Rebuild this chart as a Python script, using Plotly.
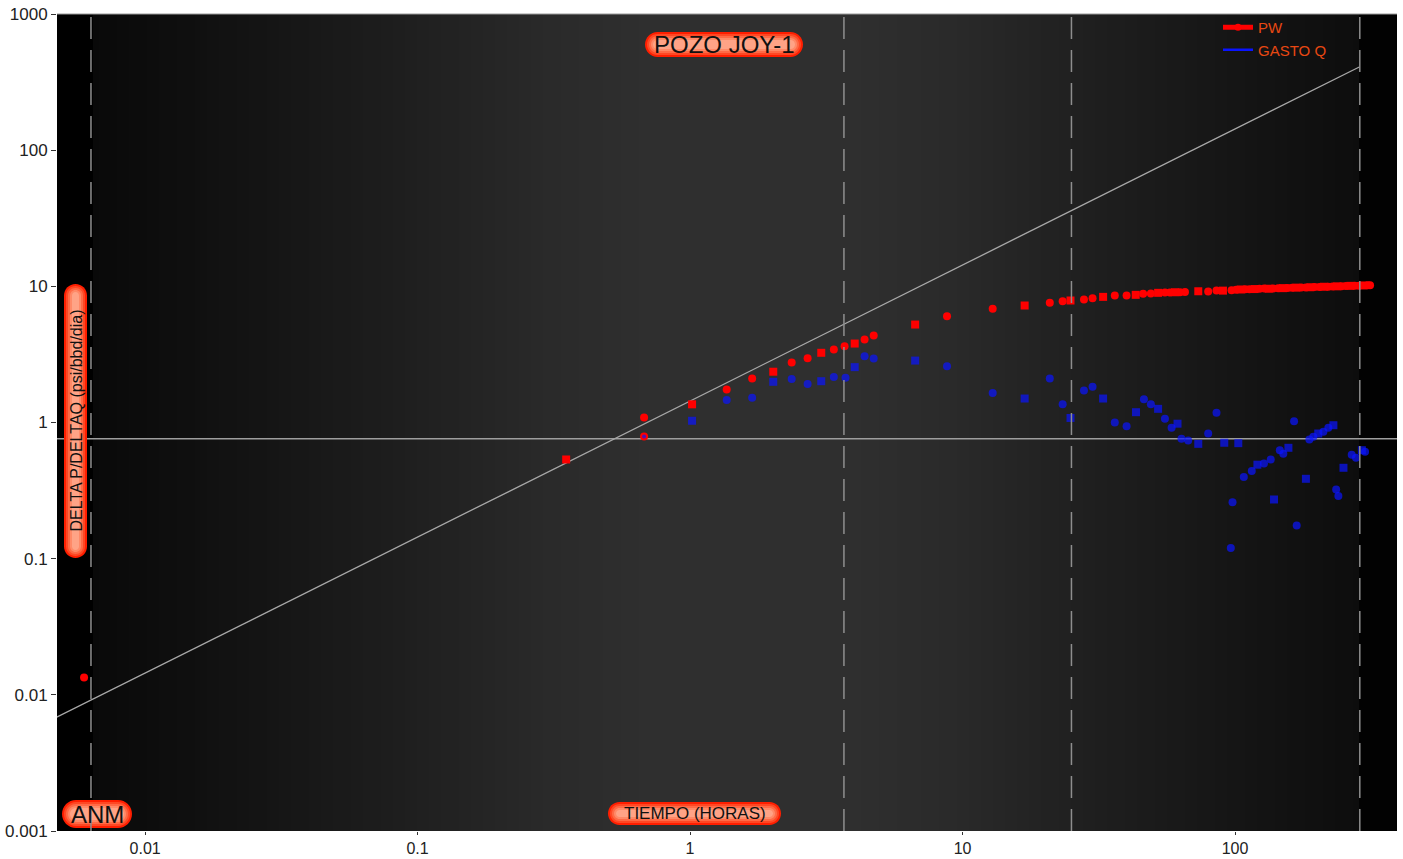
import numpy as np
import plotly.graph_objects as go

# ---- data -------------------------------------------------------------
# PW : delta P / delta Q (psi/bbd/dia) versus time (hours)
t_pw = [0.00597, 0.351, 0.678, 0.678, 1.017, 1.363, 1.69, 2.02, 2.36, 2.70,
        3.03, 3.37, 3.69, 4.02, 4.37, 4.72, 6.70, 8.77, 12.9, 16.9,
        20.9, 23.3, 24.9, 27.9, 30.0, 32.8, 36.2, 40.0, 43.2, 46.0,
        49.1, 52.2, 55.3, 57.7, 60.2, 62.8, 65.5, 73.3, 79.7, 85.5,
        90.3, 97.1, 101, 105, 109, 113, 118, 123, 128, 133,
        138, 144, 150, 156, 162, 168, 175, 182, 189, 196,
        204, 212, 220, 228, 237, 246, 255, 265, 275, 285,
        296, 307, 313]
pw = [0.0134, 0.535, 1.09, 0.79, 1.36, 1.75, 2.10, 2.36, 2.76, 2.96,
      3.25, 3.44, 3.63, 3.80, 4.07, 4.35, 5.24, 6.03, 6.84, 7.23,
      7.57, 7.78, 7.87, 8.00, 8.18, 8.37, 8.56, 8.56, 8.66, 8.81,
      8.85, 8.96, 9.00, 9.02, 9.05, 9.06, 9.10, 9.20, 9.15, 9.30,
      9.30, 9.35, 9.45, 9.48, 9.50, 9.52, 9.55, 9.58, 9.62, 9.60,
      9.65, 9.68, 9.70, 9.72, 9.75, 9.78, 9.80, 9.82, 9.85, 9.87,
      9.90, 9.93, 9.95, 9.97, 10.0, 10.02, 10.05, 10.08, 10.10, 10.12,
      10.15, 10.18, 10.20]

# GASTO Q
t_q = [0.678, 1.017, 1.363, 1.69, 2.02, 2.36, 2.70, 3.03, 3.37, 3.72,
       4.02, 4.37, 4.72, 6.70, 8.77, 12.9, 16.9, 20.9, 23.3, 24.9,
       27.9, 30.0, 32.8, 36.2, 40.0, 43.3, 46.3, 49.1, 52.2, 55.3,
       58.5, 61.5, 63.6, 67.3, 73.3, 79.7, 85.5, 91.3, 96.5, 97.9,
       102.8, 107.7, 115.2, 120.8, 127.7, 135.2, 139, 146, 150.4, 157,
       164.7, 168.4, 182, 187.4, 193.8, 202, 211, 220, 229.6, 235,
       239.5, 250, 268, 278, 292, 300]
q = [0.79, 1.03, 1.46, 1.52, 1.99, 2.09, 1.92, 2.01, 2.16, 2.13,
     2.55, 3.07, 2.95, 2.85, 2.59, 1.65, 1.50, 2.10, 1.36, 1.08,
     1.72, 1.83, 1.50, 1.00, 0.94, 1.19, 1.48, 1.36, 1.26, 1.065,
     0.914, 0.98, 0.76, 0.738, 0.697, 0.83, 1.18, 0.71, 0.120, 0.26,
     0.705, 0.398, 0.44, 0.49, 0.50, 0.535, 0.272, 0.626, 0.59, 0.652,
     1.02, 0.175, 0.386, 0.75, 0.785, 0.83, 0.855, 0.914, 0.955, 0.322,
     0.288, 0.465, 0.58, 0.55, 0.626, 0.61]

# reference lines
slope_x = [0.0047, 287]
slope_y = [0.0068, 410]
level_y = 0.76
region_x = [0.00633, 3.67, 25.1, 287]

x_ticks = [0.01, 0.1, 1, 10, 100]
x_ticklabels = ["0.01", "0.1", "1", "10", "100"]
y_ticks = [0.001, 0.01, 0.1, 1, 10, 100, 1000]
y_ticklabels = ["0.001", "0.01", "0.1", "1", "10", "100", "1000"]

# ---- figure -----------------------------------------------------------
W, H = 1403, 859
ML, MR, MT, MB = 57, 6, 14, 28
PW_ = W - ML - MR
PH_ = H - MT - MB
FONT = "Liberation Sans, Arial, sans-serif"


def px2paper(px, py):
    return (px - ML) / PW_, (H - MB - py) / PH_


fig = go.Figure()

fig.add_trace(go.Scatter(x=[0.0047, 393], y=[level_y, level_y], mode="lines",
                         line=dict(color="#9e9e9e", width=1.5),
                         showlegend=False, hoverinfo="skip"))
fig.add_trace(go.Scatter(x=slope_x, y=slope_y, mode="lines",
                         line=dict(color="#a8a8a8", width=1.3),
                         showlegend=False, hoverinfo="skip"))

sym_pw = ["square" if i % 3 == 1 else "circle" for i in range(len(t_pw))]
sym_q = ["square" if i % 3 == 1 else "circle" for i in range(len(t_q))]
size_q = [8] * len(t_q)
size_q[0] = 4

fig.add_trace(go.Scatter(x=t_pw, y=pw, mode="markers", name="PW",
                         marker=dict(color="#ff0000", size=8, symbol=sym_pw,
                                     line=dict(width=0)),
                         showlegend=False))
fig.add_trace(go.Scatter(x=t_q, y=q, mode="markers", name="GASTO Q",
                         marker=dict(color="#0a14ff", size=size_q, symbol=sym_q,
                                     line=dict(width=0)),
                         showlegend=False))

# legend entries
fig.add_trace(go.Scatter(x=[None], y=[None], mode="lines+markers", name="PW",
                         line=dict(color="#ff0000", width=5),
                         marker=dict(color="#ff0000", size=7)))
fig.add_trace(go.Scatter(x=[None], y=[None], mode="lines", name="GASTO Q",
                         line=dict(color="#0a14ff", width=2.5)))

shapes = []

# horizontal dark background gradient
stops_px = [57, 90.9, 91, 200, 400, 550, 650, 850, 950, 1100, 1250, 1360, 1360.1, 1397]
stops_v = [0, 0, 9, 16, 30, 42, 47, 47, 42, 30, 20, 13, 2, 2]
edges = np.arange(57, 1398, 6.0)
for a, b in zip(edges[:-1], edges[1:]):
    v = int(round(np.interp((a + b) / 2, stops_px, stops_v)))
    x0, _ = px2paper(a, 0)
    x1, _ = px2paper(min(b + 0.6, 1397), 0)
    shapes.append(dict(type="rect", xref="paper", yref="paper", x0=x0, x1=x1,
                       y0=0, y1=1, fillcolor=f"rgb({v},{v},{v})",
                       line=dict(width=0), layer="below"))


def pill_path(w, h):
    r = min(w, h) / 2
    k = 0.5523 * r
    x0, x1, y0, y1 = -w / 2, w / 2, -h / 2, h / 2
    return (f"M{x0 + r},{y0} L{x1 - r},{y0} "
            f"C{x1 - r + k},{y0} {x1},{y0 + r - k} {x1},{y0 + r} "
            f"L{x1},{y1 - r} C{x1},{y1 - r + k} {x1 - r + k},{y1} {x1 - r},{y1} "
            f"L{x0 + r},{y1} C{x0 + r - k},{y1} {x0},{y1 - r + k} {x0},{y1 - r} "
            f"L{x0},{y0 + r} C{x0},{y0 + r - k} {x0 + r - k},{y0} {x0 + r},{y0} Z")


PILL_COLORS = ["#ff1e00", "#ff4824", "#ff6a46", "#ff8a68", "#ffa386"]


def add_pill(cx, cy, w, h):
    ax, ay = px2paper(cx, cy)
    for i, col in enumerate(PILL_COLORS):
        ww, hh = w - 4 * i, h - 4 * i
        if ww <= 2 or hh <= 2:
            break
        shapes.append(dict(type="path", xref="paper", yref="paper",
                           xsizemode="pixel", ysizemode="pixel",
                           xanchor=ax, yanchor=ay, path=pill_path(ww, hh),
                           fillcolor=col, line=dict(width=0), layer="above"))
    return ax, ay


labels = [
    ("POZO JOY-1", 724, 44.5, 158, 25, 24, 0),
    ("ANM", 97, 814, 70, 28, 24, 0),
    ("TIEMPO (HORAS)", 694.5, 813.5, 173, 23, 17, 0),
    ("DELTA P/DELTAQ (psi/bbd/dia)", 75.5, 421, 23, 274, 16, -90),
]
annotations = []
for text, cx, cy, w, h, fs, ang in labels:
    ax, ay = add_pill(cx, cy, w, h)
    annotations.append(dict(text=text, x=ax, y=ay, xref="paper", yref="paper",
                            xanchor="center", yanchor="middle", showarrow=False,
                            textangle=ang, font=dict(family=FONT, size=fs, color="#111111")))

# dashed region boundaries
for xv in region_x:
    shapes.append(dict(type="line", xref="x", yref="paper", x0=xv, x1=xv, y0=0, y1=1,
                       line=dict(color="#8e8e8e", width=1.5, dash="22px,11px"),
                       layer="above"))

# thin frame line on top of the plot area
shapes.append(dict(type="line", xref="paper", yref="paper", x0=0, x1=1, y0=1, y1=1,
                   line=dict(color="#9a9a9a", width=1), layer="above"))

lx, ly = px2paper(1218, 11)
fig.update_layout(
    width=W, height=H,
    margin=dict(l=ML, r=MR, t=MT, b=MB, pad=0, autoexpand=False),
    paper_bgcolor="#ffffff",
    plot_bgcolor="#000000",
    shapes=shapes,
    annotations=annotations,
    showlegend=True,
    legend=dict(x=lx, y=ly, xanchor="left", yanchor="top",
                bgcolor="rgba(0,0,0,0)", borderwidth=0,
                font=dict(family=FONT, size=15, color="#e84812"),
                itemwidth=30, tracegroupgap=0),
    xaxis=dict(type="log", range=[np.log10(0.00475), np.log10(393)],
               tickvals=x_ticks, ticktext=x_ticklabels, automargin=False,
               showgrid=False, zeroline=False, showline=False,
               ticks="outside", ticklen=3, tickcolor="#333333",
               tickfont=dict(family=FONT, size=16, color="#222222")),
    yaxis=dict(type="log", range=[-3, 3],
               tickvals=y_ticks, ticktext=y_ticklabels, automargin=False,
               showgrid=False, zeroline=False, showline=False,
               ticks="outside", ticklen=5, tickcolor="#333333",
               tickfont=dict(family=FONT, size=17, color="#222222")),
)

fig.write_html("out.html")
